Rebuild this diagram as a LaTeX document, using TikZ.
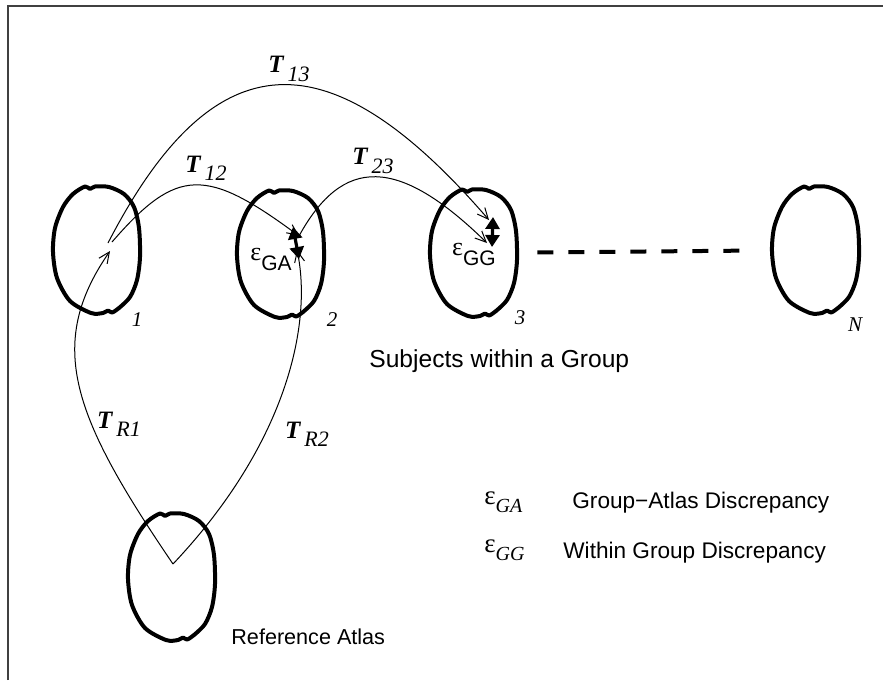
\documentclass[tikz,border=0pt]{standalone}
\usepackage{fontspec}
\setmainfont{Liberation Sans}
\newfontfamily\serifit{Liberation Serif}
\usetikzlibrary{shapes,arrows.meta,positioning,calc}

% transform label: bold italic T with an italic index
\newcommand{\tmap}[1]{{\serifit\fontsize{12.5}{14}\selectfont\textbf{\textit{T}}\kern1.5pt\raisebox{-0.33em}{\fontsize{11}{13}\selectfont\textit{#1}}}}
% brain outline around a subject node
\newcommand{\brainat}[1]{%
  \draw[outline, shift={(#1.center)}] plot[smooth cycle, tension=0.5] coordinates {
    (-7,-61) (-2,-63.5) (12,-63) (27,-56) (37,-43) (42,-22) (43,7) (40,30)
    (33,47) (22,58) (15,62.5) (11,60.5) (6,63) (-6,63) (-27,51)
    (-40,28) (-44,2) (-42,-22) (-34,-43) (-24,-56) (-12,-63.5)};}

\begin{document}
\begin{tikzpicture}[x=0.5pt, y=-0.5pt,
    subject/.style={ellipse, minimum width=44pt, minimum height=64pt, inner sep=0pt},
    outline/.style={line width=2pt, line join=round},
    transform/.style={-{Straight Barb[length=5.5pt,width=5pt]}, line width=0.5pt},
    discrepancy/.style={{Triangle[length=6pt,width=7pt]}-{Triangle[length=6pt,width=7pt]}, line width=1.6pt},
    numlabel/.style={inner sep=0pt, font=\serifit\itshape\fontsize{10.5}{12}\selectfont},
    txt/.style={inner sep=0pt, font=\fontsize{11.3}{13}\selectfont}]
    \useasboundingbox (0,0) rectangle (883,680);
    % frame
    \draw[black!75, line width=0.6pt] (8,680) -- (8,6) -- (883,6);

    % subjects and the atlas
    \node[subject] (s1) at (97,250) {};
    \node[subject] (s2) at (281,254) {};
    \node[subject] (s3) at (474,253) {};
    \node[subject] (sN) at (816,250) {};
    \node[subject] (atlas) at (172,577) {};
    \foreach \b in {s1,s2,s3,sN,atlas} {\brainat{\b}}
    \draw[line width=2pt, dash pattern=on 8pt off 7.5pt, shorten <=9.5pt, shorten >=11pt] (s3) -- (sN);

    % ends of the transforms
    \coordinate (apex) at (173,564);
    \coordinate (o1) at (110,251);
    \coordinate (a1) at (112,242);
    \coordinate (b1) at (108,243);
    \coordinate (o2) at (297,250);
    \coordinate (a2) at (299,236);
    \coordinate (a3) at (487,243);
    \coordinate (b3) at (489,220);

    % transforms
    \draw[transform] (apex) .. controls (73,417) and (45,345) .. (o1);
    \draw[transform] (apex) .. controls (290,440) and (312,320) .. (o2);
    \draw[transform] (a1) .. controls (177,167) and (206,167) .. (a2);
    \draw[transform] (b1) .. controls (215,36) and (330,36) .. (b3);
    \draw[transform] (a2) .. controls (343,156) and (398,156) .. (a3);
    \node[inner sep=0pt] (t13) at (289,69) {\tmap{13}};
    \node[inner sep=0pt] (t12) at (206,168) {\tmap{12}};
    \node[inner sep=0pt] (t23) at (373,161) {\tmap{23}};
    \node[inner sep=0pt] (tr1) at (119,424) {\tmap{R1}};
    \node[inner sep=0pt] (tr2) at (307,434) {\tmap{R2}};

    % discrepancies
    \coordinate (g1) at (293,227);
    \coordinate (g2) at (299,259);
    \coordinate (h1) at (493,217);
    \coordinate (h2) at (492,247);
    \draw[discrepancy] (g1) -- (g2);
    \draw[discrepancy] (h1) -- (h2);
    \node[txt] (eGA) at (271,259) {{\serifit\fontsize{13}{15}\selectfont ε}\raisebox{-5pt}{\fontsize{10.5}{12}\selectfont GA}};
    \node[txt] (eGG) at (474,254) {{\serifit\fontsize{13}{15}\selectfont ε}\raisebox{-5pt}{\fontsize{10.5}{12}\selectfont GG}};

    % subject numbers
    \node[numlabel] (n1) at (137,320) {1};
    \node[numlabel] (n2) at (332,320) {2};
    \node[numlabel] (n3) at (520,318) {3};
    \node[numlabel] (nN) at (855,325) {N};

    % captions and key
    \node[txt, anchor=base west, font=\fontsize{12.3}{14}\selectfont] (group) at (369,367) {Subjects within a Group};
    \node[txt, anchor=base west, font=\fontsize{10.8}{13}\selectfont] (ref) at (231,644) {Reference Atlas};
    \node[txt, anchor=base west] (kGA) at (484,504) {{\serifit\fontsize{13.5}{15}\selectfont ε}\raisebox{-4pt}{\serifit\itshape\fontsize{10}{11}\selectfont GA}};
    \node[txt, anchor=base west] (lGA) at (572,508) {Group−Atlas Discrepancy};
    \node[txt, anchor=base west] (kGG) at (484,552) {{\serifit\fontsize{13.5}{15}\selectfont ε}\raisebox{-4pt}{\serifit\itshape\fontsize{10}{11}\selectfont GG}};
    \node[txt, anchor=base west] (lGG) at (563,558) {Within Group Discrepancy};
\end{tikzpicture}
\end{document}
